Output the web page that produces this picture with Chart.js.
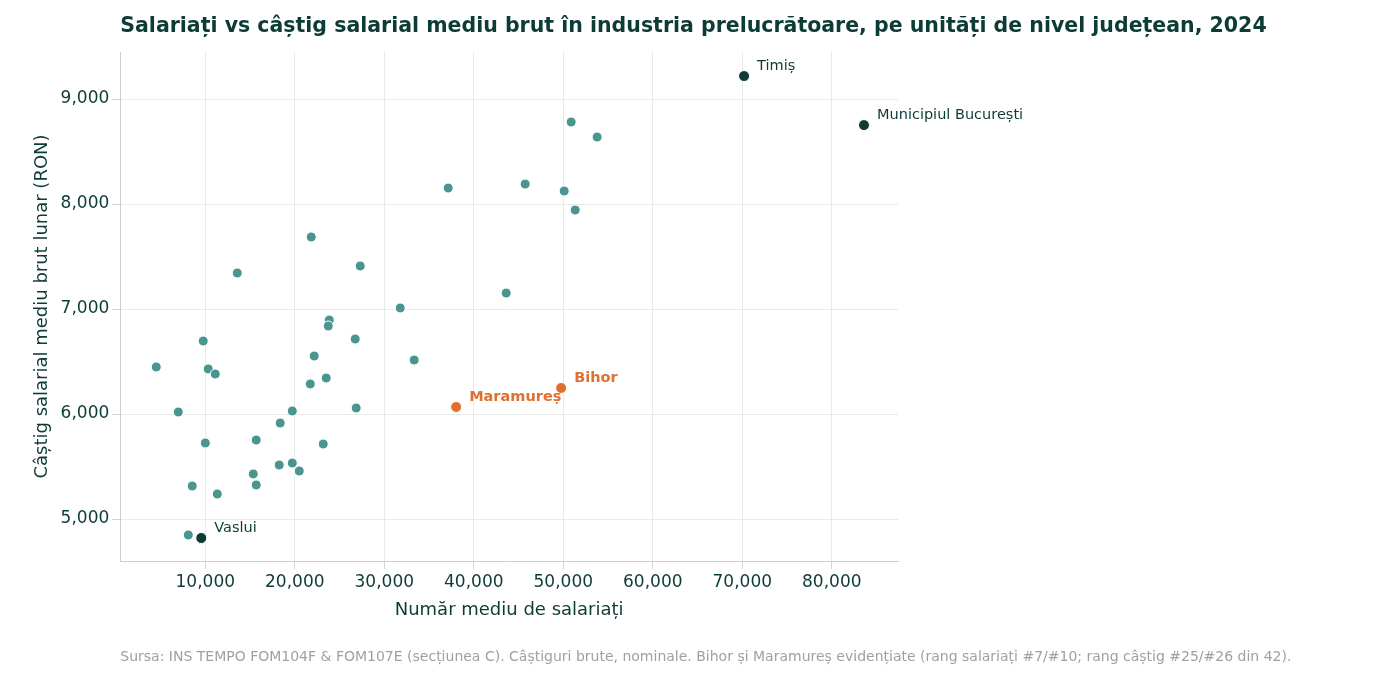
<!DOCTYPE html>
<html lang="ro">
<head>
<meta charset="UTF-8" />
<title>Salariați vs câștig salarial</title>
<script src="https://cdn.jsdelivr.net/npm/chart.js"></script>
<style>
  body { margin: 0; background: #fff; }
  #wrap { width: 1376px; height: 679px; }
</style>
</head>
<body>
<div id="wrap"><canvas id="c"></canvas></div>
<script>
// Counties: [employees, gross monthly wage RON]
const otherCounties = [
  [50880, 8781], [53780, 8638], [37140, 8152], [45740, 8190], [50100, 8124],
  [51330, 7943], [21840, 7686], [13570, 7343], [27310, 7410], [31780, 7010],
  [43620, 7152], [23850, 6895], [23740, 6838], [26750, 6714], [9770, 6695],
  [22170, 6552], [33340, 6514], [4520, 6448], [10330, 6429], [11110, 6381],
  [23510, 6343], [21730, 6286], [6980, 6019], [19720, 6029], [26860, 6057],
  [10000, 5724], [15690, 5752], [18370, 5914], [23180, 5714], [19720, 5533],
  [18260, 5514], [20500, 5457], [15360, 5429], [15690, 5324], [8540, 5314],
  [11340, 5238], [8100, 4848]
];
const extremeNames = ['Timiș', 'Municipiul București', 'Vaslui'];
const extremeValues = [[70200, 9219], [83600, 8752], [9550, 4819]];
const highlightNames = ['Bihor', 'Maramureș'];
const highlightValues = [[49760, 6248], [38030, 6067]];
const xTicks = [10000, 20000, 30000, 40000, 50000, 60000, 70000, 80000];
const yTicks = [5000, 6000, 7000, 8000, 9000];

const TITLE = 'Salariați vs câștig salarial mediu brut în industria prelucrătoare, pe unități de nivel județean, 2024';
const SOURCE = 'Sursa: INS TEMPO FOM104F & FOM107E (secțiunea C). Câștiguri brute, nominale. Bihor și Maramureș evidențiate (rang salariați #7/#10; rang câștig #25/#26 din 42).';

const DARK = '#0d3b36', TEAL = '#4a968f', ORANGE = '#e07030';
const toPts = arr => arr.map(([x, y]) => ({ x, y }));

const labelPlugin = {
  id: 'labels',
  afterDatasetsDraw(chart) {
    const ctx = chart.ctx;
    const xs = chart.scales.x, ys = chart.scales.y;
    ctx.save();
    ctx.textBaseline = 'middle';
    ctx.font = '14.5px "DejaVu Sans", sans-serif';
    ctx.fillStyle = DARK;
    extremeValues.forEach(([x, y], i) => {
      ctx.fillText(extremeNames[i], xs.getPixelForValue(x) + 13, ys.getPixelForValue(y) - 10);
    });
    ctx.font = 'bold 14.5px "DejaVu Sans", sans-serif';
    ctx.fillStyle = ORANGE;
    highlightValues.forEach(([x, y], i) => {
      ctx.fillText(highlightNames[i], xs.getPixelForValue(x) + 13, ys.getPixelForValue(y) - 10);
    });
    const a = chart.chartArea;
    ctx.textBaseline = 'alphabetic';
    ctx.font = 'bold 20.5px "DejaVu Sans", sans-serif';
    ctx.fillStyle = DARK;
    ctx.fillText(TITLE, a.left, 32);
    ctx.font = '14px "DejaVu Sans", sans-serif';
    ctx.fillStyle = '#9aa3a2';
    ctx.fillText(SOURCE, a.left, 661);
    ctx.restore();
  }
};

new Chart(document.getElementById('c'), {
  type: 'scatter',
  data: {
    datasets: [
      { data: toPts(otherCounties), backgroundColor: TEAL, borderColor: '#fff', borderWidth: 1, pointRadius: 5, pointHoverRadius: 5 },
      { data: toPts(extremeValues), backgroundColor: DARK, borderColor: '#fff', borderWidth: 1, pointRadius: 5.5, pointHoverRadius: 5.5 },
      { data: toPts(highlightValues), backgroundColor: ORANGE, borderColor: '#fff', borderWidth: 1, pointRadius: 5.5, pointHoverRadius: 5.5 }
    ]
  },
  options: {
    responsive: true,
    maintainAspectRatio: false,
    animation: false,
    layout: { padding: { top: 52, right: 478, bottom: 54, left: 28 } },
    plugins: { legend: { display: false }, tooltip: { enabled: false } },
    scales: {
      x: {
        min: 500, max: 87400,
        afterBuildTicks: s => { s.ticks = xTicks.map(v => ({ value: v })); },
        ticks: { color: DARK, font: { size: 17, family: '"DejaVu Sans"' }, callback: v => v.toLocaleString('en-US') },
        grid: { color: '#e6ebea', drawTicks: true, tickColor: '#cfd6d5' },
        border: { color: '#c8cfce' },
        title: { display: true, text: 'Număr mediu de salariați', color: DARK, font: { size: 18, family: '"DejaVu Sans"' } }
      },
      y: {
        min: 4600, max: 9448,
        afterBuildTicks: s => { s.ticks = yTicks.map(v => ({ value: v })); },
        ticks: { color: DARK, font: { size: 17, family: '"DejaVu Sans"' }, callback: v => v.toLocaleString('en-US') },
        grid: { color: '#e6ebea', tickColor: '#cfd6d5' },
        border: { color: '#c8cfce' },
        title: { display: true, text: 'Câștig salarial mediu brut lunar (RON)', color: DARK, font: { size: 18, family: '"DejaVu Sans"' } }
      }
    }
  },
  plugins: [labelPlugin]
});
</script>
</body>
</html>
